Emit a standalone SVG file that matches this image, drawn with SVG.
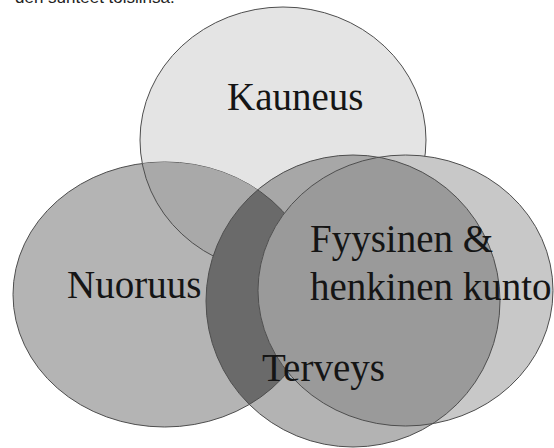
<svg xmlns="http://www.w3.org/2000/svg" width="554" height="448" viewBox="0 0 554 448">
<style>
.edge{fill:none;stroke:#4e4e4e;stroke-width:1}
.lbl{font-family:"Liberation Serif","Times New Roman",serif;font-size:39px;fill:#151515}
.top{font-family:"Liberation Sans",Arial,sans-serif;font-size:17px;fill:#222}
</style>
<defs>
<clipPath id="cK"><ellipse cx="283" cy="140" rx="143" ry="133"/></clipPath>
<clipPath id="cN"><ellipse cx="164.7" cy="294.5" rx="151.7" ry="132.5"/></clipPath>
<clipPath id="cT"><ellipse cx="353" cy="301" rx="147" ry="146"/></clipPath>
<clipPath id="cF"><ellipse cx="405.5" cy="290.5" rx="147.5" ry="135.5"/></clipPath>
</defs>
<rect width="554" height="448" fill="#ffffff"/>
<text class="top" x="15" y="3">den suhteet toisiinsa.</text>

<g id="kauneus">
<ellipse cx="283" cy="140" rx="143" ry="133" fill="#e4e4e4"/>
<ellipse class="edge" cx="283" cy="140" rx="143" ry="133"/>
</g>

<g id="nuoruus">
<ellipse cx="164.7" cy="294.5" rx="151.7" ry="132.5" fill="#b4b4b4"/>
<ellipse class="edge" cx="164.7" cy="294.5" rx="151.7" ry="132.5"/>
<g clip-path="url(#cN)">
<ellipse cx="283" cy="140" rx="143" ry="133" fill="#a9a9a9"/>
<ellipse class="edge" cx="283" cy="140" rx="143" ry="133"/>
</g>
</g>

<g id="terveys">
<ellipse cx="353" cy="301" rx="147" ry="146" fill="#b3b3b3"/>
<g clip-path="url(#cT)">
<ellipse cx="283" cy="140" rx="143" ry="133" fill="#a7a7a7"/>
<ellipse cx="164.7" cy="294.5" rx="151.7" ry="132.5" fill="#6a6a6a"/>
<ellipse class="edge" cx="164.7" cy="294.5" rx="151.7" ry="132.5"/>
</g>
<ellipse class="edge" cx="353" cy="301" rx="147" ry="146"/>
</g>

<g id="fyysinen">
<ellipse cx="405.5" cy="290.5" rx="147.5" ry="135.5" fill="#c8c8c8"/>
<g clip-path="url(#cF)">
<ellipse cx="353" cy="301" rx="147" ry="146" fill="#9a9a9a"/>
<ellipse class="edge" cx="353" cy="301" rx="147" ry="146"/>
</g>
<ellipse class="edge" cx="405.5" cy="290.5" rx="147.5" ry="135.5"/>
</g>

<g id="connectors"></g>

<g id="labels">
<text class="lbl" x="227" y="110">Kauneus</text>
<text class="lbl" x="67" y="298">Nuoruus</text>
<text class="lbl" x="310" y="252">Fyysinen &amp;</text>
<text class="lbl" x="310" y="300">henkinen kunto</text>
<text class="lbl" x="262" y="381">Terveys</text>
</g>
</svg>
